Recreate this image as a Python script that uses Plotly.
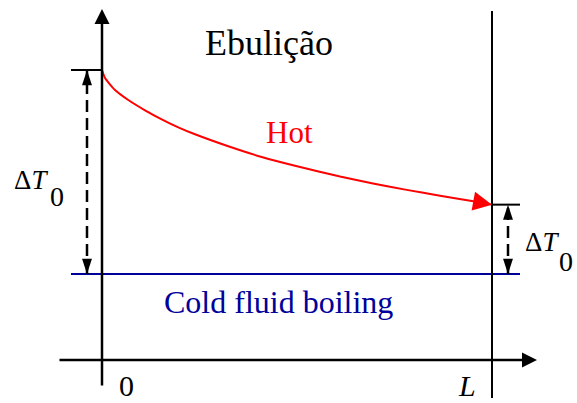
import plotly.graph_objects as go

# ---------------- data ----------------
x_marks = [0.0, 1.0]
x_labels = ["0", "<i>L</i>"]

hot_x = [0.0, 0.0077, 0.0333, 0.0674, 0.1103, 0.1531, 0.1956, 0.2385, 0.3238,
         0.4095, 0.4949, 0.6103, 0.6949, 0.7813, 0.8667, 0.9521, 1.0]
hot_y = [1.0, 0.9608, 0.902, 0.8529, 0.8025, 0.7583, 0.7191, 0.6848, 0.626,
         0.5735, 0.5304, 0.4775, 0.4436, 0.4123, 0.3838, 0.3569, 0.34]

cold_level = 0.0
hot_in = 1.0
hot_out = 0.34

title_text = "Ebulição"
hot_label = "Hot"
cold_label = "Cold fluid boiling"
dT_label = "Δ<i>T</i>"
dT_sub = "0"

# ---------------- layout helpers (pixel -> data) ----------------
W, H = 577, 403
X0_PX, XL_PX = 102, 492      # pixel columns of x = 0 and x = L
Y0_PX, Y1_PX = 274, 70       # pixel rows of cold level and hot inlet


def px_x(p):
    return (p - X0_PX) / (XL_PX - X0_PX)


def px_y(p):
    return (Y0_PX - p) / (Y0_PX - Y1_PX)


FONT = "Liberation Serif"
BLACK = "#000000"
RED = "#ff0000"
BLUE = "#00009a"

fig = go.Figure()

# hot stream curve
fig.add_trace(go.Scatter(x=hot_x, y=hot_y, mode="lines",
                         line=dict(color=RED, width=2, shape="spline", smoothing=0.5),
                         hoverinfo="skip"))

# cold fluid (boiling) level
fig.add_trace(go.Scatter(x=[px_x(71), px_x(520)], y=[cold_level, cold_level], mode="lines",
                         line=dict(color=BLUE, width=2), hoverinfo="skip"))

# vertical line at x = L
fig.add_trace(go.Scatter(x=[x_marks[1], x_marks[1]], y=[px_y(398), px_y(11)], mode="lines",
                         line=dict(color=BLACK, width=2), hoverinfo="skip"))

# level ticks
fig.add_trace(go.Scatter(x=[px_x(71), x_marks[0]], y=[hot_in, hot_in], mode="lines",
                         line=dict(color=BLACK, width=2), hoverinfo="skip"))
fig.add_trace(go.Scatter(x=[x_marks[1], px_x(520)], y=[hot_out, hot_out], mode="lines",
                         line=dict(color=BLACK, width=2), hoverinfo="skip"))

# dashed double arrows
for xd, top in [(px_x(87), hot_in), (px_x(508), hot_out)]:
    fig.add_trace(go.Scatter(x=[xd, xd], y=[cold_level, top], mode="lines",
                             line=dict(color=BLACK, width=2.5, dash="12px,6px"),
                             hoverinfo="skip"))
    mid = (cold_level + top) / 2
    for end in (top, cold_level):
        fig.add_trace(go.Scatter(x=[xd, xd], y=[mid, end], mode="markers",
                                 marker=dict(symbol="arrow", size=[0, 16], color=BLACK,
                                             opacity=[0, 1], angleref="previous",
                                             line=dict(width=0)),
                                 hoverinfo="skip"))

annotations = []

# axes as arrows
annotations.append(dict(x=0, y=px_y(9), ax=0, ay=px_y(387), xref="x", yref="y",
                        axref="x", ayref="y", text="", showarrow=True,
                        arrowhead=2, arrowsize=1.2, arrowwidth=2.5, arrowcolor=BLACK))
annotations.append(dict(x=px_x(537), y=px_y(360), ax=px_x(58), ay=px_y(360), xref="x", yref="y",
                        axref="x", ayref="y", text="", showarrow=True,
                        arrowhead=2, arrowsize=1.2, arrowwidth=2.5, arrowcolor=BLACK))

# red arrow head at the end of hot curve
annotations.append(dict(x=hot_x[-1], y=hot_y[-1], ax=hot_x[-2], ay=hot_y[-2], xref="x", yref="y",
                        axref="x", ayref="y", text="", showarrow=True,
                        arrowhead=2, arrowsize=1.9, arrowwidth=2, arrowcolor=RED))

# texts
annotations.append(dict(x=px_x(268.5), y=px_y(43), text=title_text, showarrow=False,
                        font=dict(family=FONT, size=36, color=BLACK)))
annotations.append(dict(x=px_x(289), y=px_y(132), text=hot_label, showarrow=False,
                        font=dict(family=FONT, size=31, color=RED)))
annotations.append(dict(x=px_x(278), y=px_y(302), text=cold_label, showarrow=False,
                        font=dict(family=FONT, size=32, color=BLUE)))

# Delta T0 labels
annotations.append(dict(x=px_x(31), y=px_y(180), text=dT_label, showarrow=False,
                        font=dict(family=FONT, size=27, color=BLACK)))
annotations.append(dict(x=px_x(57), y=px_y(196), text=dT_sub, showarrow=False,
                        font=dict(family=FONT, size=28, color=BLACK)))
annotations.append(dict(x=px_x(541.5), y=px_y(242), text=dT_label, showarrow=False,
                        font=dict(family=FONT, size=27, color=BLACK)))
annotations.append(dict(x=px_x(565.5), y=px_y(261), text=dT_sub, showarrow=False,
                        font=dict(family=FONT, size=28, color=BLACK)))

# x labels 0 and L
for xm, lab, xp in zip(x_marks, x_labels, [126, 466.5]):
    annotations.append(dict(x=px_x(xp), y=px_y(H), yanchor="bottom", text=lab,
                            showarrow=False, borderpad=0,
                            font=dict(family=FONT, size=30, color=BLACK)))

fig.update_layout(
    width=W, height=H,
    margin=dict(l=0, r=0, t=0, b=0),
    paper_bgcolor="white", plot_bgcolor="white",
    showlegend=False,
    xaxis=dict(range=[px_x(0), px_x(W)], visible=False, fixedrange=True),
    yaxis=dict(range=[px_y(H), px_y(0)], visible=False, fixedrange=True),
    annotations=annotations,
)

fig.write_html("out.html")
